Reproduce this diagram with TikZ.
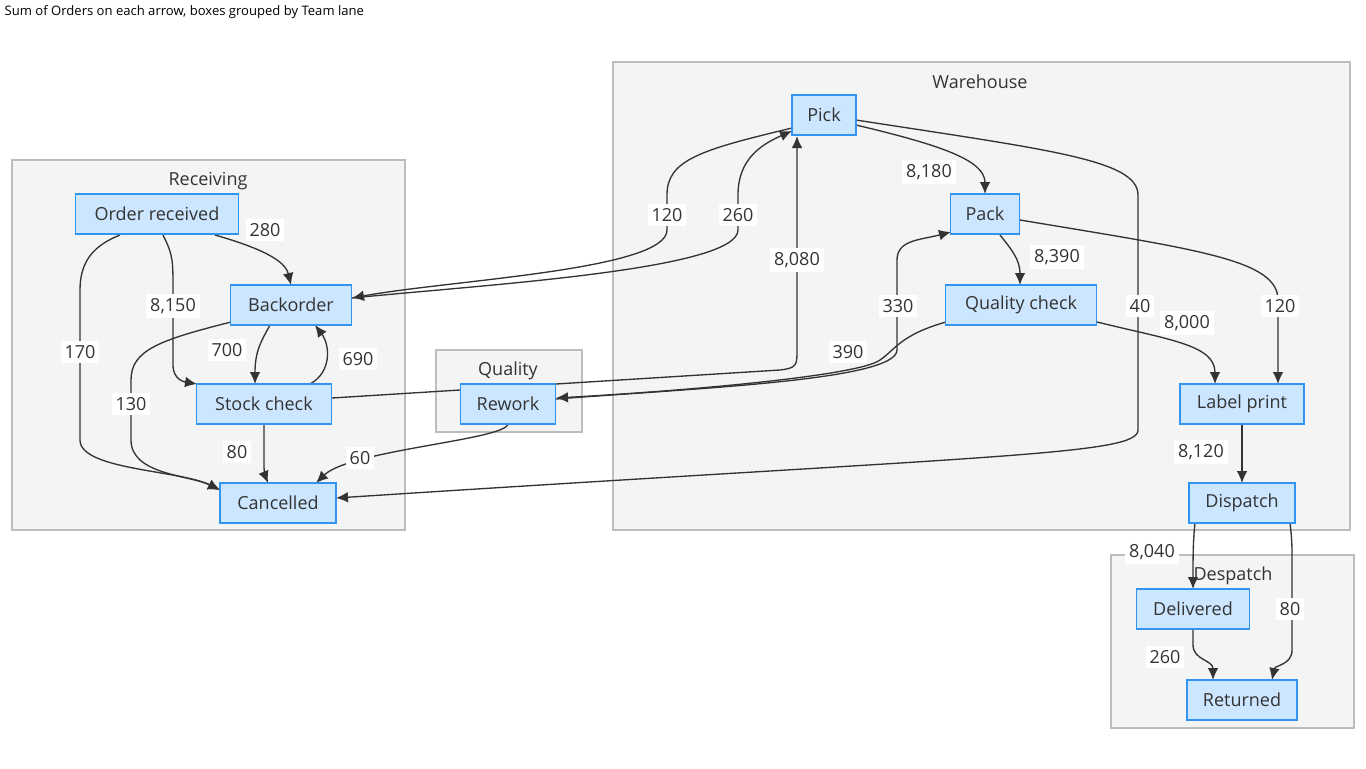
\documentclass[tikz,border=0pt]{standalone}
\usepackage{fontspec}
\setmainfont{Open Sans}
\usetikzlibrary{arrows.meta}
\definecolor{bxline}{HTML}{2F95F0}
\definecolor{bxfill}{HTML}{CCE6FF}
\definecolor{lnfill}{HTML}{F4F4F4}
\definecolor{lnline}{HTML}{BDBDBD}
\begin{document}
\begin{tikzpicture}[x=0.75pt,y=-0.75pt,
 box/.style={draw=bxline,fill=bxfill,line width=0.9pt,minimum height=30pt,inner xsep=8pt,font=\fontsize{13.5}{16}\selectfont,text=black!80},
 lane/.style={draw=lnline,fill=lnfill,line width=0.9pt},
 lanelbl/.style={font=\fontsize{13.5}{16}\selectfont,text=black!80},
 e/.style={draw=black!80,line width=1pt,-{Latex[length=9pt,width=8pt]}},
 lbl/.style={fill=white,font=\fontsize{13.5}{16}\selectfont,text=black!80,inner sep=3pt}]
\useasboundingbox (0,0) rectangle (1366,768);
\node[anchor=west,font=\fontsize{9.8}{11}\selectfont] (title) at (0,12) {Sum of Orders on each arrow, boxes grouped by Team lane};
\draw[lane] (12,160) rectangle (405,530);
\draw[lane] (436,350) rectangle (582,432);
\draw[lane] (613,62) rectangle (1350,530);
\draw[lane] (1111,555) rectangle (1354,728);
\node[lanelbl] (lr) at (208,181) {Receiving};
\node[lanelbl] (lq) at (508,371) {Quality};
\node[lanelbl] (lw) at (980,82) {Warehouse};
\node[lanelbl] (ld) at (1233,576) {Despatch};

\path[e] (215,235) .. controls (260,248) and (285,260) .. (291,285);
\node[lbl] (l1) at (265,230) {280};
\path[e] (163,235) .. controls (173,255) and (173,260) .. (173,290) -- (173,365) .. controls (173,380) and (185,382) .. (197,384);
\node[lbl] (l2) at (173,306) {8,150};
\path[e] (120,235) .. controls (95,245) and (80,260) .. (80,290) -- (80,440) .. controls (80,470) and (180,470) .. (220,490);
\node[lbl] (l3) at (80,352) {170};
\path[e] (270,325) .. controls (262,340) and (255,350) .. (255,384);
\node[lbl] (l4) at (227,350) {700};
\path[e] (310,384) .. controls (332,372) and (330,345) .. (315,325);
\node[lbl] (l5) at (358,359) {690};
\path[e] (231,322) .. controls (160,340) and (131,350) .. (131,380) -- (131,440) .. controls (131,475) and (190,475) .. (220,490);
\node[lbl] (l6) at (131,404) {130};
\path[e] (264,424) -- (264,465) .. controls (264,475) and (266,478) .. (268,483);
\node[lbl] (l7) at (237,452) {80};
\path[e] (508,424) .. controls (505,440) and (350,450) .. (316,483);
\node[lbl] (l8) at (360,458) {60};
\path[e] (792,128) .. controls (700,150) and (667,160) .. (667,195) -- (667,230) .. controls (667,270) and (450,280) .. (352,298);
\node[lbl] (l9) at (667,215) {120};
\path[e] (352,298) .. controls (480,285) and (738,270) .. (738,230) -- (738,195) .. controls (738,160) and (760,145) .. (792,131);
\node[lbl] (l10) at (738,215) {260};
\path[e] (332,398) -- (780,370) .. controls (797,368) and (797,365) .. (797,350) -- (797,136);
\node[lbl] (l11) at (797,260) {8,080};
\path[e] (946,322) .. controls (900,335) and (895,350) .. (880,360) .. controls (860,375) and (700,390) .. (556,398);
\node[lbl] (l12) at (848,352) {390};
\path[e] (556,399) .. controls (700,388) and (897,380) .. (897,350) -- (897,260) .. controls (897,240) and (920,240) .. (951,232);
\node[lbl] (l13) at (898,306) {330};
\path[e] (856,125) .. controls (940,145) and (985,160) .. (985,194);
\node[lbl] (l14) at (929,172) {8,180};
\path[e] (856,120) .. controls (1050,150) and (1138,160) .. (1138,195) -- (1138,430) .. controls (1138,455) and (1000,455) .. (336,498);
\node[lbl] (l15) at (1140,306) {40};
\path[e] (1000,235) .. controls (1012,250) and (1020,260) .. (1020,285);
\node[lbl] (l16) at (1057,257) {8,390};
\path[e] (1020,220) .. controls (1200,250) and (1278,260) .. (1278,300) -- (1278,384);
\node[lbl] (l17) at (1280,306) {120};
\path[e] (1097,322) .. controls (1170,340) and (1215,345) .. (1215,384);
\node[lbl] (l18) at (1187,323) {8,000};
\path[e] (1242,424) -- (1242,483);
\node[lbl] (l19) at (1201,452) {8,120};
\path[e] (1195,523) .. controls (1193,540) and (1193,560) .. (1193,589);
\node[lbl] (l20) at (1152,552) {8,040};
\path[e] (1290,523) .. controls (1292,540) and (1292,545) .. (1292,560) -- (1292,650) .. controls (1292,665) and (1275,665) .. (1272,680);
\node[lbl] (l21) at (1290,609) {80};
\path[e] (1193,629) -- (1193,645) .. controls (1193,660) and (1213,660) .. (1213,680);
\node[lbl] (l22) at (1165,657) {260};

\node[box,minimum width=163*0.75pt] (or) at (157,214) {Order received};
\node[box,minimum width=121*0.75pt] (bo) at (291,305) {Backorder};
\node[box,minimum width=135*0.75pt] (sc) at (264,404) {Stock check};
\node[box,minimum width=116*0.75pt] (ca) at (278,503) {Cancelled};
\node[box,minimum width=95*0.75pt] (rw) at (508,404) {Rework};
\node[box,minimum width=64*0.75pt] (pi) at (824,115) {Pick};
\node[box,minimum width=69*0.75pt] (pa) at (985,214) {Pack};
\node[box,minimum width=151*0.75pt] (qc) at (1021,305) {Quality check};
\node[box,minimum width=124*0.75pt] (lp) at (1242,404) {Label print};
\node[box,minimum width=106*0.75pt] (di) at (1242,503) {Dispatch};
\node[box,minimum width=113*0.75pt] (de) at (1193,609) {Delivered};
\node[box,minimum width=110*0.75pt] (re) at (1242,700) {Returned};
\end{tikzpicture}
\end{document}
